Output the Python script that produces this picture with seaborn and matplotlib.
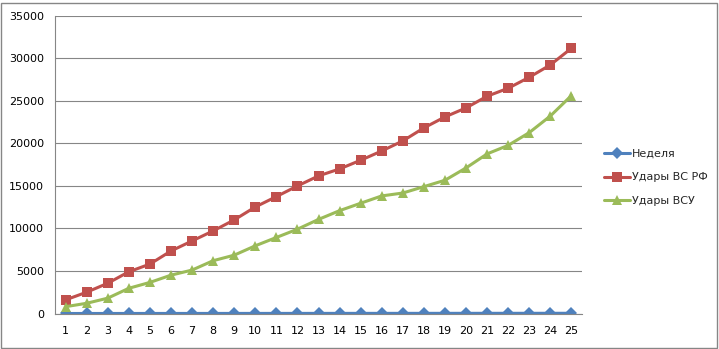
import matplotlib
matplotlib.use("Agg")
import matplotlib.pyplot as plt
import seaborn as sns
import pandas as pd
from matplotlib.patches import Rectangle
from matplotlib.ticker import FixedLocator

weeks = list(range(1, 26))
nedelya = list(range(1, 26))
udary_rf = [1600, 2500, 3550, 4900, 5800, 7340, 8520, 9700, 10990, 12510,
            13730, 14980, 16160, 16980, 18000, 19090, 20270, 21800, 23090, 24150,
            25520, 26460, 27750, 29200, 31160]
udary_vsu = [800, 1200, 1800, 2960, 3650, 4500, 5100, 6200, 6850, 7950,
             8930, 9900, 11050, 12080, 12950, 13810, 14150, 14900, 15650, 17100,
             18750, 19750, 21250, 23200, 25600]
series_names = ["Неделя", "Удары ВС РФ", "Удары ВСУ"]
y_ticks = [0, 5000, 10000, 15000, 20000, 25000, 30000, 35000]

df = pd.DataFrame({
    "week": weeks * 3,
    "value": nedelya + udary_rf + udary_vsu,
    "series": [series_names[0]] * 25 + [series_names[1]] * 25 + [series_names[2]] * 25,
})

sns.set_theme(style="white")
plt.rcParams['font.family'] = ['DejaVu Sans']

colors = {"Неделя": "#4F81BD", "Удары ВС РФ": "#C0504D", "Удары ВСУ": "#9BBB59"}
markers = {"Неделя": "D", "Удары ВС РФ": "s", "Удары ВСУ": "^"}
msizes = {"Неделя": 6.5, "Удары ВС РФ": 7.5, "Удары ВСУ": 7.5}

fig = plt.figure(figsize=(7.19, 3.49), dpi=100)
ax = fig.add_axes([55 / 719, 1 - 313.5 / 349, (582 - 55) / 719, (313.5 - 15.5) / 349])

for name in series_names:
    sub = df[df["series"] == name]
    sns.lineplot(data=sub, x="week", y="value", ax=ax, color=colors[name],
                 marker=markers[name], markersize=msizes[name],
                 markeredgewidth=0, linewidth=2.2, label=name)

ax.set_xlim(0.5, 25.5)
ax.set_ylim(0, 35000)
ax.set_yticks(y_ticks)
ax.set_yticklabels([str(t) for t in y_ticks], fontsize=8, color="#000000")
ax.set_xticks(weeks)
ax.set_xticklabels([str(w) for w in weeks], fontsize=8, color="#000000")
ax.xaxis.set_minor_locator(FixedLocator([w + 0.5 for w in range(0, 26)]))
ax.tick_params(axis="x", which="major", length=0, pad=9)
ax.tick_params(axis="x", which="minor", length=4, color="#868686", width=0.8, direction="out")
ax.tick_params(axis="y", which="major", length=4, color="#868686", width=0.8, direction="out", pad=4)
ax.set_xlabel("")
ax.set_ylabel("")
ax.grid(axis="y", color="#868686", linewidth=0.8)
ax.set_axisbelow(True)
for s in ["top", "right"]:
    ax.spines[s].set_visible(False)
for s in ["left", "bottom"]:
    ax.spines[s].set_color("#868686")
    ax.spines[s].set_linewidth(0.8)

leg = ax.get_legend()
if leg:
    leg.remove()
handles, labels = ax.get_legend_handles_labels()
fig.legend(handles, labels, loc="upper left", bbox_to_anchor=(598 / 719, 1 - 143 / 349),
           frameon=False, fontsize=8, handlelength=2.4, handletextpad=0.15,
           labelspacing=1.25, borderpad=0)

fig.patches.append(Rectangle((1 / 719, 1 / 349), 716 / 719, 345 / 349, transform=fig.transFigure,
                             fill=False, edgecolor="#868686", linewidth=1.0))

fig.savefig("out.png", dpi=100)
